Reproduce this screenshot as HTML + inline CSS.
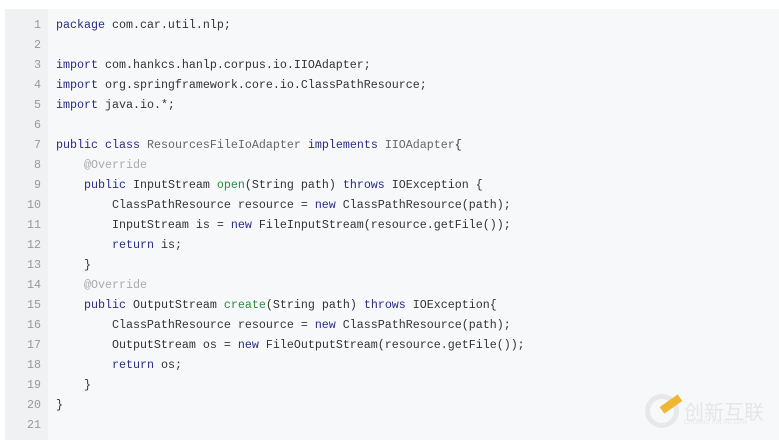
<!DOCTYPE html><html><head><style>
body{margin:0;width:779px;height:440px;background:#fff;overflow:hidden;position:relative}
.box{position:absolute;left:5px;top:9px;width:774px;height:431px;background:#f6f8fa}
.g{position:absolute;left:5px;top:9px;width:43px;height:431px;background:#eff1f3}
.l{position:absolute;left:0;height:20px;line-height:20px;font-family:"Liberation Mono",monospace;font-size:11.67px;color:#333;white-space:pre}
.n{position:absolute;width:41px;text-align:right;color:#999;font-family:"Liberation Mono",monospace;font-size:11.67px;line-height:20px}
.k{color:#2a2a86}.t{color:#666}.f{color:#2e8b3e}.a{color:#aaa}
</style></head><body>
<div class="box"></div><div class="g"></div>
<div id="c"></div>
<div style="position:absolute;left:645px;top:394px;width:34px;height:34px;border-radius:50%;border:5px solid #e8e8e8;box-sizing:border-box"></div>
<div style="position:absolute;left:660px;top:400px;width:22px;height:8px;background:#f0b830;transform:rotate(-35deg)"></div>
<div style="position:absolute;left:684px;top:396px;color:#e6e6e6;font:20px 'Noto Sans CJK SC',sans-serif">创新互联</div>
<div style="position:absolute;left:684px;top:420px;color:#e6e6e6;font:6px 'Liberation Sans',sans-serif">CHUANG XIN HU LIAN</div>
<script>
var L=[
'<span class="k">package</span> com.car.util.nlp;','',
'<span class="k">import</span> com.hankcs.hanlp.corpus.io.IIOAdapter;',
'<span class="k">import</span> org.springframework.core.io.ClassPathResource;',
'<span class="k">import</span> java.io.*;','',
'<span class="k">public</span> <span class="k">class</span> <span class="t">ResourcesFileIoAdapter</span> <span class="k">implements</span> <span class="t">IIOAdapter</span>{',
'    <span class="a">@Override</span>',
'    <span class="k">public</span> InputStream <span class="f">open</span>(String path) <span class="k">throws</span> IOException {',
'        ClassPathResource resource = <span class="k">new</span> ClassPathResource(path);',
'        InputStream is = <span class="k">new</span> FileInputStream(resource.getFile());',
'        <span class="k">return</span> is;',
'    }',
'    <span class="a">@Override</span>',
'    <span class="k">public</span> OutputStream <span class="f">create</span>(String path) <span class="k">throws</span> IOException{',
'        ClassPathResource resource = <span class="k">new</span> ClassPathResource(path);',
'        OutputStream os = <span class="k">new</span> FileOutputStream(resource.getFile());',
'        <span class="k">return</span> os;',
'    }','}',''];
var h='';L.forEach(function(s,i){var y=15+i*20;h+='<div class="n" style="top:'+y+'px;left:0">'+(i+1)+'</div><div class="l" style="top:'+y+'px;left:56px">'+s+'</div>';});
document.getElementById('c').innerHTML=h;
</script>
</body></html>
